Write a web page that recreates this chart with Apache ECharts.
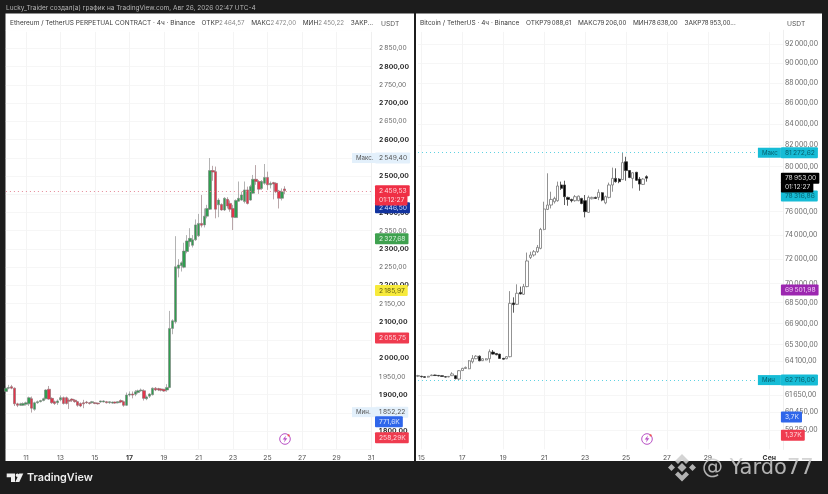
<!DOCTYPE html>
<html><head><meta charset="utf-8">
<style>html,body{margin:0;padding:0;background:#1c1c1c}#c{width:828px;height:494px}</style>
<script src="https://cdn.jsdelivr.net/npm/echarts@6/dist/echarts.min.js"></script>
</head><body><div id="c"></div>
<script>
// ---- data: [open, close, low, high], 4h candles ----
const ethCandles = [
[1909,1918,1904,1924],[1918,1920,1915,1927],[1922,1918,1915,1927],[1918,1875,1869,1920],[1875,1871,1866,1878],
[1871,1875,1869,1878],[1871,1876,1869,1879],[1874,1878,1870,1881],[1875,1892,1869,1895],[1889,1863,1851,1895],
[1860,1878,1856,1881],[1878,1881,1875,1884],[1881,1884,1879,1886],[1884,1889,1882,1892],[1889,1913,1887,1915],
[1915,1888,1886,1924],[1890,1878,1875,1893],[1881,1876,1872,1884],[1878,1883,1872,1887],[1886,1892,1882,1898],
[1892,1876,1873,1895],[1892,1876,1873,1895],[1885,1882,1861,1890],[1888,1885,1880,1890],[1885,1881,1878,1888],
[1881,1871,1867,1883],[1876,1869,1866,1879],[1878,1875,1863,1886],[1880,1878,1875,1883],[1878,1876,1873,1880],
[1878,1881,1876,1883],[1878,1876,1874,1880],[1877,1875,1873,1878],[1880,1883,1878,1884],[1880,1883,1879,1885],
[1881,1878,1876,1883],[1878,1881,1875,1882],[1877,1880,1875,1881],[1880,1877,1875,1881],[1878,1881,1876,1882],
[1884,1880,1877,1887],[1881,1871,1867,1884],[1871,1899,1869,1906],[1899,1902,1895,1909],[1902,1899,1890,1909],
[1901,1908,1896,1913],[1906,1911,1903,1914],[1911,1913,1908,1917],[1911,1890,1884,1915],[1889,1894,1885,1898],
[1896,1902,1891,1904],[1900,1918,1898,1920],[1918,1913,1910,1921],[1917,1913,1910,1919],[1916,1912,1909,1918],
[1915,1910,1908,1916],[1913,1920,1908,1929],[1920,2082,1918,2130],[2082,2103,2066,2107],[2100,2251,2095,2335],
[2247,2256,2222,2272],[2254,2262,2238,2266],[2250,2294,2247,2317],[2293,2322,2288,2338],[2320,2329,2306,2357],
[2310,2325,2304,2338],[2325,2366,2322,2381],[2336,2370,2333,2396],[2370,2365,2359,2448],[2366,2390,2359,2411],
[2390,2411,2384,2421],[2409,2515,2407,2549.4],[2515,2511,2487,2528],[2512,2409,2384,2526],[2421,2434,2387,2439],
[2422,2407,2405,2425],[2407,2439,2404,2442],[2436,2418,2411,2442],[2425,2409,2402,2433],[2411,2387,2352,2421],
[2386,2433,2385,2436],[2431,2439,2430,2485],[2434,2448,2432,2457],[2430,2462,2425,2485],[2462,2425,2422,2471],
[2434,2471,2432,2476],[2453,2491,2451,2503],[2491,2485,2476,2530],[2485,2464,2451,2489],[2466,2485,2462,2489],
[2480,2496,2476,2533],[2496,2476,2462,2512],[2476,2480,2466,2485],[2482,2478,2436,2484],[2480,2457,2453,2483],
[2459,2439,2411,2462],[2439,2457,2433,2466],[2464.57,2459.53,2450.22,2472]
];
const btcCandles = [
[62990,63040,62930,63090],[62990,62960,62900,63020],[62960,62910,62880,62990],[62930,62990,62900,63010],[63030,63080,63010,63110],
[63080,63040,63020,63100],[63050,63010,62990,63060],[63030,62980,62960,63040],[62960,62930,62900,62980],[62940,62980,62920,63000],
[63030,63160,63010,63280],[63030,62820,62770,63050],[62790,63390,62716,63440],[63400,63560,63380,63600],[63550,63630,63520,63690],
[63530,64110,63500,64160],[64040,64280,63920,64530],[64260,64450,64230,64520],[64450,64110,64080,64500],[64120,64260,64090,64300],
[64170,64260,64150,64290],[64260,64780,63970,64950],[64750,64600,64570,64900],[64650,64550,64520,64680],[64600,64280,64260,64620],
[64290,64230,64200,64320],[64260,64410,64230,64440],[64410,68450,64360,69410],[68480,68350,67725,68920],[68375,69240,68325,69950],
[69310,69185,69160,69770],[69160,69770,69110,69980],[69770,71840,69720,72530],[72130,72330,72000,72600],[72330,72600,72200,72740],
[72600,72960,72500,73160],[72880,74470,72800,74600],[74470,76220,74400,76860],[76190,76570,76130,79390],[76570,77060,76270,77740],
[76860,77150,76700,77300],[76950,78250,76860,78640],[78340,78040,77900,78640],[78340,77300,76570,78720],[77240,77060,76510,77300],
[77060,76950,76800,77120],[76950,77300,76860,77450],[76950,77350,76900,77400],[77150,76700,76640,77200],[76950,75990,75500,77450],
[75930,77240,75900,77400],[77120,77240,77060,77300],[77240,77150,77100,77300],[77240,77680,77000,77950],[77650,77000,76900,77700],
[76760,77300,76640,77400],[77240,78340,77150,78550],[78340,78930,77740,79910],[78930,78640,78550,79840],[78870,78640,78500,78950],
[78820,80360,78790,81272.62],[80440,79640,78720,80900],[79640,79010,78950,79670],[78930,79440,78040,79480],[79480,78760,78700,79520],
[78870,78420,77830,79060],[78390,78870,78340,78950],[79088.61,78953,78638,79206]
];
const ethTickDays = ['11','13','15','17','19','21','23','25','27','29','31'];
const btcTickDays = ['15','17','19','21','23','25','27','29'];
const btcLogTicks = [92000,90000,88000,86000,84000,82000,80000,76000,74000,72000,70000,68500,66900,65300,64100,61650,60450,59250];
const ethHeadValues = ['2\u2009464,57','2\u2009472,00','2\u2009450,22'];
const btcHeadValues = ['79\u2009088,61','79\u2009206,00','78\u2009638,00','78\u2009953,00...'];

// ---- helpers ----
const FONT = 'Inter, "Noto Sans", sans-serif';
const money = v => { const [a,b] = v.toFixed(2).split('.'); return a.replace(/\B(?=(\d{3})+$)/g,'\u2009') + ',' + b; };
function makeCats(startMs, n){ const out=[]; for(let i=0;i<n;i++){ const d=new Date(startMs+i*4*3600e3);
  out.push((d.getUTCMonth()+1)+'-'+d.getUTCDate()+' '+d.getUTCHours()); } return out; }
const ethCats = makeCats(Date.UTC(2026,7,9,20), 128);
const btcCats = makeCats(Date.UTC(2026,7,14,20), 108);
function tickMap(days, extra){ const m={}; days.forEach(d=>{m['8-'+d+' 0']=d;}); Object.assign(m,extra||{}); return m; }
const ethMap = tickMap(ethTickDays);
const btcMap = tickMap(btcTickDays, {'9-1 0':'Сен'});
function xAxis(gridIndex, cats, map, boldLabel){ const show=(i,v)=>map[v]!==undefined;
  return { type:'category', gridIndex, data:cats, boundaryGap:false,
    axisLine:{show:false}, axisTick:{show:false},
    splitLine:{show:true, interval:show, lineStyle:{color:'#f4f4f4',width:1}},
    axisLabel:{interval:show, margin:5, hideOverlap:false, color:'#555', fontSize:6.8, fontFamily:FONT,
      formatter:v=>{const t=map[v]; if(t===undefined) return ''; return t===boldLabel?'{b|'+t+'}':t;},
      rich:{b:{fontWeight:700,color:'#333',fontSize:6.8,fontFamily:FONT}}} };
}
function tag(anchor, text, fill, ink, prefix){
  const rich={ v:{backgroundColor:fill,color:ink,fontSize:6.7,fontFamily:FONT,padding:[2,3,2,4],lineHeight:6,borderRadius:1} };
  let f='{v|'+text+'}';
  if(prefix){ rich.p={backgroundColor:fill,color:ink,fontSize:6.2,fontFamily:FONT,padding:[2,3,2,4],lineHeight:6,width:16}; f='{p|'+prefix+'}'+f; }
  return { yAxis:anchor, lineStyle:{color:'transparent',width:0},
    label:{show:true,position:'end',distance:0,formatter:f,rich,__tag:1,_p:!!prefix} };
}
const DOT=[1,3];
const CY='#16bcd6';
const ethMark=[
 {yAxis:2459.53,lineStyle:{type:DOT,color:'#e58a98',width:1},label:{show:false}},
 tag(2549.40,money(2549.40),'#e3f0fb','#555','Макс.'),
 tag(1852.22,money(1852.22),'#e3f0fb','#555','Мин.'),
 tag(2327.68,money(2327.68),'#3fa14f','#d9f2dd'),
 tag(2185.97,money(2185.97),'#f7ea3b','#665f10'),
 tag(2055.75,money(2055.75),'#ef3b4f','#ffd5da'),
 tag(1826,'771,6K','#2f66ea','#dbe6ff'),
 tag(1782,'258,29K','#ef3b4f','#ffd5da'),
 tag(2413,money(2446.50),'#12339e','#cfdcff'),
 tag(2434,'01:12:27','#ef2f45','#ffd5da'),
 tag(2459.53,money(2459.53),'#ef2f45','#ffd5da')
];
const btcMark=[
 {yAxis:81272.62,lineStyle:{type:DOT,color:'#5fd2e2',width:1},label:{show:false}},
 {yAxis:62716,lineStyle:{type:DOT,color:'#5fd2e2',width:1},label:{show:false}},
 tag(81272.62,money(81272.62),CY,'#055f6d','Макс'),
 tag(62716,money(62716),CY,'#055f6d','Мин'),
 tag(69501.98,money(69501.98),'#9c27b0','#f0d0f5'),
 tag(60130,'3,7K','#2f66ea','#dbe6ff'),
 tag(58900,'1,37K','#ef3b4f','#ffd5da'),
 tag(77360,money(78316.86),CY,'#055f6d'),
 tag(78160,'01:12:27','#000','#ddd'),
 tag(78953,money(78953),'#000','#ddd')
];
// each tag's value text starts on the price column
function finish(items, gridRight, valueLeft){
  items.forEach(it=>{ const l=it.label; if(!l.__tag) return; const p=l._p; delete l.__tag; delete l._p;
    l.distance=valueLeft-gridRight-4; if(p){ l.distance-=23; } });
  return items;
}
finish(ethMark,371,379); finish(btcMark,783,785);

const grid=[
 {left:5.9,width:365.1,top:30.25,height:419.15},
 {left:418,width:364.9,top:30.25,height:419.15}
];
const bold=new Set([2800,2700,2600,2500,2400,2300,2200,2100,2000,1900,1800]);
const HEAD='6.5px '+FONT, HEADV='6.2px '+FONT;
const option={
 animation:false, backgroundColor:'#1c1c1c', textStyle:{fontFamily:FONT},
 grid,
 xAxis:[xAxis(0,ethCats,ethMap,'17'),xAxis(1,btcCats,btcMap,'Сен')],
 yAxis:[
  {type:'value',gridIndex:0,position:'right',min:1750,max:2900,interval:50,
   axisLine:{show:true,lineStyle:{color:'#efefef'}},axisTick:{show:false},
   splitLine:{lineStyle:{color:'#f6f6f6'}},
   axisLabel:{margin:8,color:'#666',fontSize:6.7,fontFamily:FONT,align:'left',
     formatter:v=>(v===1750||v===2900)?'':(bold.has(v)?'{b|'+money(v)+'}':money(v)),
     rich:{b:{fontWeight:700,color:'#2b2b2b',fontSize:6.8,fontFamily:FONT}}}},
  {type:'log',logBase:10,gridIndex:1,position:'right',min:57950,max:93454,
   axisLine:{show:true,lineStyle:{color:'#efefef'}},
   axisTick:{show:false,customValues:btcLogTicks},
   splitLine:{lineStyle:{color:'#f6f6f6'}},
   axisLabel:{margin:2,color:'#666',fontSize:6.9,fontFamily:FONT,align:'left',customValues:btcLogTicks,
     formatter:v=>money(+v)}}
 ],
 series:[
  {type:'candlestick',xAxisIndex:0,yAxisIndex:0,data:ethCandles,barWidth:2.8,z:3,
   itemStyle:{color:'#2f9e4f',color0:'#e5344a',borderColor:'#808080',borderColor0:'#8a6a6e',borderWidth:0.6},
   markLine:{silent:true,symbol:'none',animation:false,precision:2,data:ethMark}},
  {type:'candlestick',xAxisIndex:1,yAxisIndex:1,data:btcCandles,barWidth:2.8,z:3,
   itemStyle:{color:'#fff',color0:'#000',borderColor:'#777',borderColor0:'#333',borderWidth:0.8},
   markLine:{silent:true,symbol:'none',animation:false,precision:2,data:btcMark}}
 ],
 graphic:[
  {type:'rect',z:-100,silent:true,shape:{x:5.5,y:13.5,width:408.5,height:447.5},style:{fill:'#fff'}},
  {type:'rect',z:-100,silent:true,shape:{x:416,y:13.5,width:406,height:447.5},style:{fill:'#fff'}},
  {type:'text',z:50,silent:true,style:{x:6,y:8.5,text:'Lucky_Traider создал(а) график на TradingView.com, Авг 26, 2026 02:47 UTC-4',fill:'#b5b5b5',font:'6.5px '+FONT,verticalAlign:'middle'}},
  {type:'rect',z:40,silent:true,shape:{x:6,y:14,width:366,height:18},style:{fill:'rgba(255,255,255,.85)'}},
  {type:'rect',z:40,silent:true,shape:{x:418,y:14,width:364,height:18},style:{fill:'rgba(255,255,255,.85)'}},
  {type:'text',z:50,silent:true,style:{x:10,y:23,verticalAlign:'middle',
    text:'{k|Ethereum / TetherUS PERPETUAL CONTRACT · 4ч · Binance}  {k|ОТКР}{g|'+ethHeadValues[0]+'}  {k|МАКС}{g|'+ethHeadValues[1]+'}  {k|МИН}{g|'+ethHeadValues[2]+'}  {k|ЗАКР...}',
    rich:{k:{fill:'#3a3a3a',font:HEAD},g:{fill:'#8a8a8a',font:HEADV}}}},
  {type:'text',z:50,silent:true,style:{x:420,y:23,verticalAlign:'middle',
    text:'{k|Bitcoin / TetherUS · 4ч · Binance}  {k|ОТКР}{v|'+btcHeadValues[0]+'}  {k|МАКС}{v|'+btcHeadValues[1]+'}  {k|МИН}{v|'+btcHeadValues[2]+'}  {k|ЗАКР}{v|'+btcHeadValues[3]+'}',
    rich:{k:{fill:'#3a3a3a',font:HEAD},v:{fill:'#3a3a3a',font:HEADV}}}},
  {type:'text',z:50,silent:true,style:{x:381,y:23.5,text:'USDT',align:'left',verticalAlign:'middle',fill:'#555',font:'6.7px '+FONT}},
  {type:'text',z:50,silent:true,style:{x:787,y:23.5,text:'USDT',align:'left',verticalAlign:'middle',fill:'#555',font:'6.7px '+FONT}},
  // bolt badges
  ...[285,647].flatMap(cx=>[
   {type:'circle',z:50,silent:true,shape:{cx,cy:439,r:5.3},style:{fill:'#fff',stroke:'#b952c6',lineWidth:1}},
   {type:'polygon',z:51,silent:true,shape:{points:[[cx+1,435.5],[cx-2.3,439.6],[cx-0.2,439.6],[cx-1,442.5],[cx+2.3,438.3],[cx+0.2,438.3]]},style:{fill:'#b952c6'}},
   {type:'circle',z:52,silent:true,shape:{cx:cx+3.6,cy:435.4,r:1.1},style:{fill:'#ef5350'}}
  ]),
  // TradingView logo
  {type:'polygon',z:50,silent:true,shape:{points:[[6.7,473.5],[15,473.5],[15,482],[11,482],[11,477.2],[6.7,477.2]]},style:{fill:'#eee'}},
  {type:'circle',z:50,silent:true,shape:{cx:17.4,cy:475.3,r:1.8},style:{fill:'#eee'}},
  {type:'polygon',z:50,silent:true,shape:{points:[[19.2,473.5],[23.3,473.5],[19.3,482],[15.3,482]]},style:{fill:'#eee'}},
  {type:'text',z:50,silent:true,style:{x:27,y:478,text:'TradingView',verticalAlign:'middle',fill:'#eee',font:'600 10.8px '+FONT}},
  // watermark
  {type:'polygon',z:60,silent:true,shape:{points:[[682,463],[686.5,467.5],[682,472],[677.5,467.5]]},style:{fill:'rgba(205,205,205,.85)'}},
  {type:'polygon',z:60,silent:true,shape:{points:[[671.5,464],[675,467.5],[671.5,471],[668,467.5]]},style:{fill:'rgba(205,205,205,.85)'}},
  {type:'polygon',z:60,silent:true,shape:{points:[[692.5,464],[696,467.5],[692.5,471],[689,467.5]]},style:{fill:'rgba(205,205,205,.85)'}},
  {type:'polygon',z:60,silent:true,shape:{points:[[682,454],[689,461],[686,464],[682,460],[678,464],[675,461]]},style:{fill:'rgba(205,205,205,.85)'}},
  {type:'polygon',z:60,silent:true,shape:{points:[[682,481.5],[689,474.5],[686,471.5],[682,475.5],[678,471.5],[675,474.5]]},style:{fill:'rgba(205,205,205,.85)'}},
  {type:'text',z:60,silent:true,style:{x:702,y:468.5,text:'@ Yardo77',verticalAlign:'middle',fill:'rgba(205,205,205,.85)',font:'21px "DejaVu Sans", sans-serif'}}
 ]
};
const chart=echarts.init(document.getElementById('c'),null,{renderer:'canvas',width:828,height:494});
chart.setOption(option);
</script></body></html>
